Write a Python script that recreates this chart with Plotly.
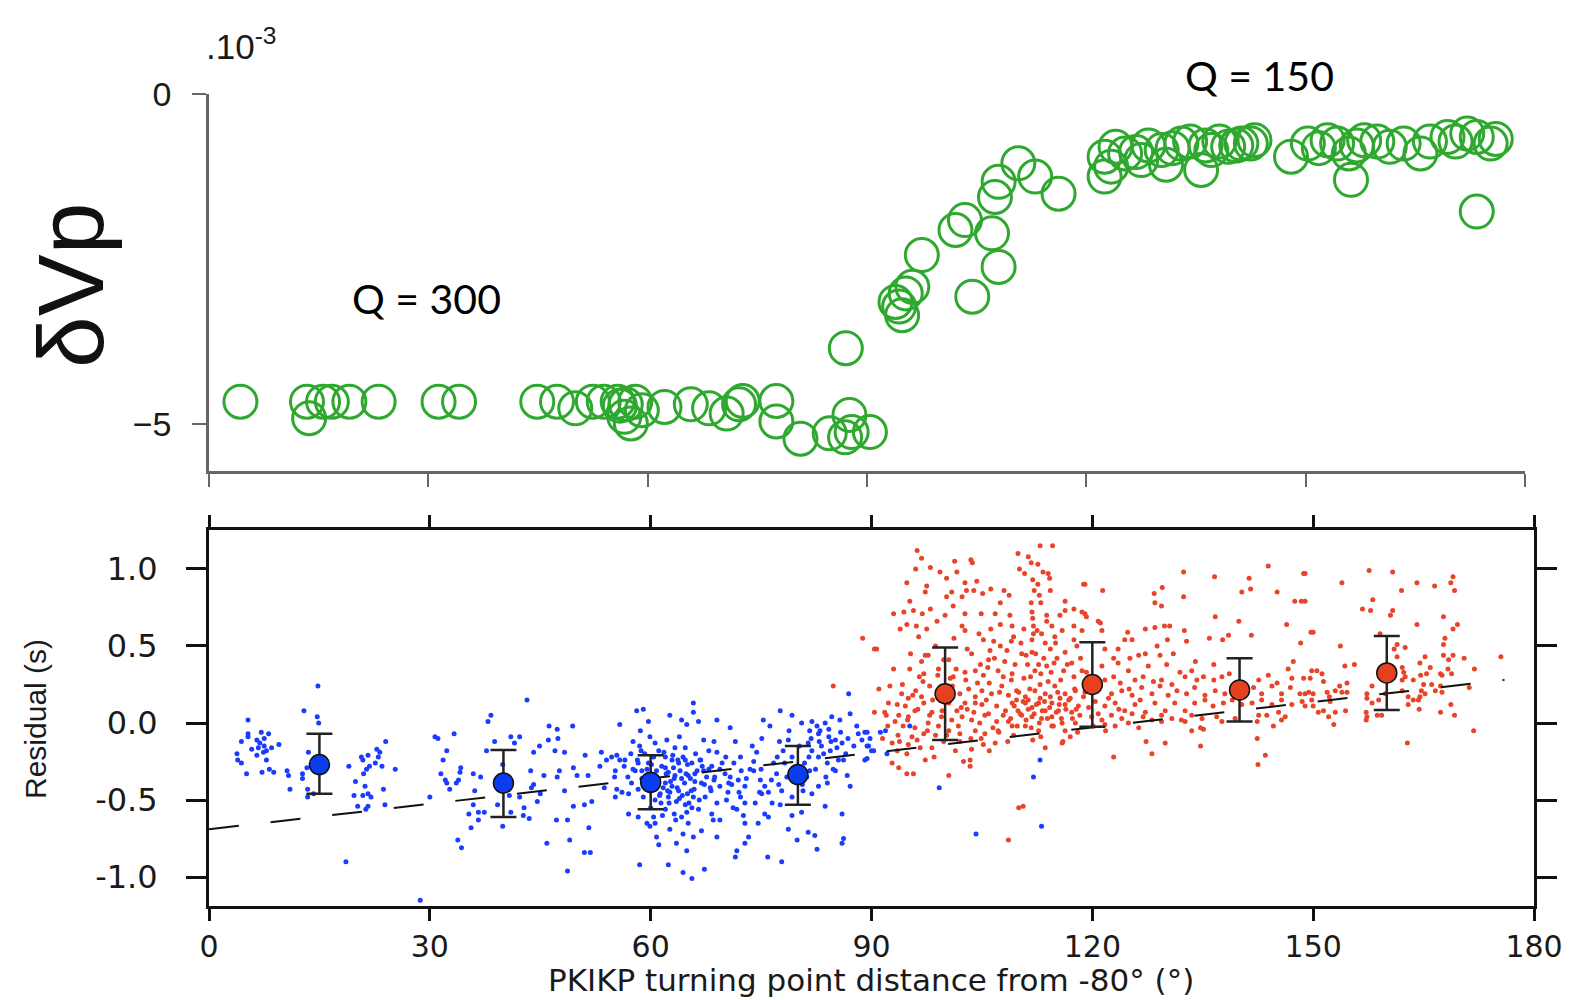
import plotly.graph_objects as go

# ---------------- top panel: dVp (x 1e-3) ----------------
green_pts = [
    (4.3, -4.66), (13.4, -4.66), (13.7, -4.91), (15.6, -4.66), (16.8, -4.66), (19.2, -4.66),
    (23.2, -4.66), (31.4, -4.66), (34.2, -4.66), (44.9, -4.66), (47.6, -4.66), (50.1, -4.76),
    (52.5, -4.66), (54.0, -4.66), (55.9, -4.66), (56.2, -4.72), (56.8, -4.89), (57.0, -4.70),
    (57.7, -4.99), (58.3, -4.66), (59.2, -4.79), (62.3, -4.74), (65.9, -4.70), (68.4, -4.76),
    (70.8, -4.84), (72.5, -4.70), (73.0, -4.65), (77.6, -4.65), (77.6, -4.96), (80.9, -5.22),
    (84.9, -5.14), (87.0, -5.20), (87.6, -4.86), (87.9, -5.12), (90.4, -5.12), (87.1, -3.85),
    (93.9, -3.15), (94.8, -3.35), (95.3, -3.02), (96.2, -2.92), (94.4, -3.22), (97.5, -2.44),
    (102.1, -2.06), (103.4, -1.91), (104.4, -3.07), (107.1, -2.11), (108.0, -2.62), (107.5, -1.56),
    (108.0, -1.33), (110.7, -1.05), (113.0, -1.25), (116.2, -1.51), (122.5, -0.95), (122.5, -1.25),
    (123.4, -1.10), (124.0, -0.80), (125.3, -0.90), (126.8, -0.88), (127.5, -1.00), (128.5, -0.78),
    (130.3, -0.85), (130.9, -1.07), (131.8, -0.82), (133.0, -0.75), (134.2, -0.72), (135.7, -1.15),
    (136.3, -0.78), (137.1, -0.85), (138.2, -0.72), (139.4, -0.80), (140.5, -0.78), (141.2, -0.75),
    (142.5, -0.75), (143.0, -0.70), (148.0, -0.95), (150.3, -0.75), (151.8, -0.82), (153.0, -0.70),
    (154.3, -0.75), (155.9, -0.90), (156.2, -1.30), (157.0, -0.78), (158.0, -0.70), (159.8, -0.72),
    (161.5, -0.80), (163.4, -0.75), (165.7, -0.90), (167.0, -0.72), (169.4, -0.65), (170.5, -0.72),
    (172.1, -0.60), (173.4, -0.65), (173.4, -1.78), (175.3, -0.75), (176.0, -0.68),
]

# ---------------- bottom panel: residuals ----------------
blue_pts = [
    (5.3, 0.02), (5.3, -0.07), (7.1, -0.06), (8.1, -0.07), (4.4, -0.12), (5.3, -0.09), (6.5, -0.11),
    (7.5, -0.10), (9.5, -0.14), (8.5, -0.16), (7.5, -0.15), (6.7, -0.16), (5.8, -0.17), (7.8, -0.18),
    (3.8, -0.20), (6.5, -0.21), (3.9, -0.24), (4.4, -0.26), (7.8, -0.24), (5.1, -0.33), (7.2, -0.32),
    (8.2, -0.30), (8.8, -0.32), (10.6, -0.31), (10.8, -0.34), (11.0, -0.43), (6.9, -0.13), (7.4, -0.19),
    (12.9, 0.08), (14.8, 0.24), (14.7, 0.04), (14.9, 0.00), (13.5, -0.19), (13.3, -0.29), (12.7, -0.33),
    (12.7, -0.36), (13.4, -0.43), (13.4, -0.48), (14.2, -0.46),
    (24.0, -0.12), (22.8, -0.17), (23.2, -0.19), (21.6, -0.21), (20.7, -0.22), (20.9, -0.24), (23.0, -0.22),
    (22.6, -0.26), (21.8, -0.28), (21.4, -0.30), (19.0, -0.28), (23.5, -0.28), (25.3, -0.30), (21.0, -0.33),
    (19.9, -0.38), (21.2, -0.41), (23.7, -0.43), (19.7, -0.47), (20.9, -0.47), (21.6, -0.46), (22.0, -0.48),
    (20.2, -0.54), (21.6, -0.54), (21.3, -0.56), (23.9, -0.53),
    (18.6, -0.90), (28.7, -1.15), (30.0, -0.48), (30.7, -0.09),
    (31.1, -0.10), (33.3, -0.07), (32.3, -0.18), (31.8, -0.24), (31.5, -0.33), (32.1, -0.37), (32.3, -0.39),
    (32.7, -0.43), (33.9, -0.37), (34.2, -0.29), (34.1, -0.32), (33.6, -0.39), (35.3, -0.59), (36.6, -0.58),
    (37.4, -0.58), (36.6, -0.63), (35.6, -0.68), (33.8, -0.76), (34.3, -0.81), (36.1, -0.44), (35.9, -0.53),
    (35.9, -0.33), (36.9, -0.35), (37.9, 0.01), (38.3, 0.05), (37.7, -0.18), (38.8, -0.12), (41.0, -0.09),
    (41.5, -0.13), (42.2, -0.09), (43.2, 0.15), (39.9, -0.27), (39.2, -0.53), (39.9, -0.67), (41.0, -0.58),
    (40.8, -0.47), (42.2, -0.48), (42.8, -0.55), (42.7, -0.60), (43.5, -0.62), (43.8, -0.42), (44.1, -0.40),
    (43.7, -0.31), (44.1, -0.19), (44.9, -0.15), (45.0, -0.46), (44.6, -0.51), (45.5, -0.34), (46.1, -0.11),
    (46.2, -0.02), (47.3, -0.04), (47.4, -0.10), (47.0, -0.18), (47.3, -0.35), (47.6, -0.31), (48.3, -0.19),
    (48.3, -0.44), (47.2, -0.63), (48.7, -0.63), (45.9, -0.78), (49.0, -0.76), (48.7, -0.96), (49.4, -0.02),
    (49.5, -0.29), (50.0, -0.34), (49.5, -0.54), (51.0, -0.53), (51.5, -0.34), (51.1, -0.21), (52.0, -0.51),
    (51.6, -0.68), (51.0, -0.84), (51.8, -0.84), (53.3, -0.19), (53.1, -0.28), (53.7, -0.42), (54.0, -0.24),
    (54.7, -0.22), (55.4, -0.21), (55.8, -0.24), (56.5, -0.24), (55.2, -0.31), (55.1, -0.35), (55.4, -0.43),
    (55.2, -0.48), (56.1, -0.45), (57.0, -0.46), (57.0, -0.59), (55.8, -0.01), (58.1, 0.08), (59.0, 0.09),
    (58.6, -0.05), (57.6, -0.12), (58.7, -0.18), (58.3, -0.26), (57.9, -0.31), (57.4, -0.39), (58.8, -0.31),
    (58.3, -0.43), (59.0, -0.48), (58.3, -0.61), (58.5, -0.92), (59.5, -0.65),
    (59.7, 0.01), (59.9, -0.09), (60.6, -0.13), (61.1, -0.18), (59.7, -0.26), (60.8, -0.31), (61.3, -0.46),
    (60.6, -0.50), (60.4, -0.61), (60.6, -0.65), (60.8, -0.74), (61.1, -0.79), (59.9, -0.67),
    (62.6, 0.05), (64.2, 0.02), (65.8, 0.13), (65.8, 0.07), (64.9, -0.01), (63.9, -0.09), (62.2, -0.11),
    (63.3, -0.16), (64.7, -0.16), (62.0, -0.22), (62.9, -0.24), (63.8, -0.26), (64.7, -0.24), (65.6, -0.26),
    (62.4, -0.32), (63.3, -0.34), (64.2, -0.36), (65.1, -0.34), (66.0, -0.33), (62.0, -0.39), (62.9, -0.41),
    (63.8, -0.44), (65.0, -0.46), (65.8, -0.48), (62.4, -0.48), (63.5, -0.51), (64.7, -0.53), (65.6, -0.55),
    (62.0, -0.56), (63.2, -0.59), (64.2, -0.61), (65.1, -0.65), (66.5, -0.56), (62.6, -0.69), (64.4, -0.72),
    (65.8, -0.74), (63.5, -0.78), (64.9, -0.83), (62.4, -0.92), (64.4, -0.97), (65.6, -1.01), (67.3, -0.95),
    (66.9, -0.70), (61.7, -0.42),
    (66.5, 0.01), (69.0, 0.02), (70.8, -0.03), (67.2, -0.11), (68.6, -0.12), (67.9, -0.18), (69.0, -0.19),
    (66.7, -0.24), (68.3, -0.28), (69.7, -0.26), (67.2, -0.31), (68.7, -0.35), (70.1, -0.33), (66.9, -0.39),
    (68.1, -0.42), (69.4, -0.41), (70.6, -0.39), (67.4, -0.48), (69.0, -0.52), (70.3, -0.50), (68.3, -0.59),
    (69.4, -0.63), (69.0, -0.74), (68.5, -0.63),
    (71.5, -0.12), (72.2, -0.22), (71.3, -0.26), (72.3, -0.31), (70.8, -0.35), (71.9, -0.37), (72.8, -0.41),
    (72.2, -0.48), (72.8, -0.52), (71.7, -0.56), (72.6, -0.60), (72.8, -0.65), (73.3, -0.74), (72.8, -0.78),
    (71.7, -0.83), (71.5, -0.87), (73.8, -0.15), (74.4, -0.19), (75.1, -0.10), (75.3, 0.02), (76.2, -0.02),
    (74.0, -0.31), (74.9, -0.37), (75.5, -0.41), (76.4, -0.37), (75.1, -0.46), (74.2, -0.52), (75.5, -0.59),
    (76.0, -0.61), (74.6, -0.65), (75.9, -0.87), (76.7, -0.26), (77.1, -0.33), (77.4, -0.40), (77.6, 0.08),
    (77.8, -0.90),
    (79.2, 0.05), (80.5, 0.00), (81.9, 0.01), (78.7, -0.11), (78.0, -0.18), (78.2, -0.26), (79.2, -0.22),
    (81.6, -0.05), (81.4, -0.13), (81.9, -0.18), (82.8, -0.07), (80.9, -0.26), (81.6, -0.31), (77.8, -0.44),
    (79.2, -0.48), (80.7, -0.44), (81.9, -0.46), (77.6, -0.53), (79.2, -0.60), (80.5, -0.58), (78.7, -0.69),
    (81.4, -0.71), (79.9, -0.76), (82.3, -0.73), (82.6, -0.82), (83.7, -0.54),
    (83.7, 0.00), (82.6, -0.02), (84.2, -0.09), (85.1, -0.11), (85.3, -0.16), (86.0, -0.13), (83.2, -0.15),
    (84.4, -0.18), (82.8, -0.22), (84.0, -0.26), (85.1, -0.31), (86.2, -0.24), (86.7, -0.34), (87.1, -0.41),
    (85.7, 0.02), (84.6, 0.04), (86.9, 0.19), (87.1, 0.06), (88.2, -0.07), (89.1, -0.06), (88.7, -0.11),
    (89.4, -0.15), (90.3, -0.18), (89.1, -0.24), (86.0, -0.59), (86.2, -0.75), (86.0, -0.78), (84.0, -0.39),
    (82.8, -0.41),
    (89.4, -0.06), (89.8, -0.10), (91.2, -0.06), (91.9, -0.05), (89.6, -0.15), (90.0, -0.18), (89.4, -0.23),
    (92.1, -0.20), (95.2, -0.02), (99.2, -0.42), (104.2, -0.72), (112.9, -0.24), (112.0, -0.35), (113.1, -0.67),
    (59.5, -0.30), (60.2, -0.35), (60.9, -0.40), (61.5, -0.28), (62.1, -0.33), (62.7, -0.38), (63.1, -0.29),
    (63.6, -0.42), (64.0, -0.31), (64.6, -0.39), (65.0, -0.27), (65.4, -0.36), (65.9, -0.43), (66.3, -0.31),
    (61.2, -0.47), (62.5, -0.52), (63.9, -0.49), (65.2, -0.52), (60.4, -0.22), (61.8, -0.19), (63.0, -0.21),
    (64.4, -0.22), (66.1, -0.20), (67.0, -0.28), (67.6, -0.35), (68.2, -0.44), (60.0, -0.55), (61.6, -0.60),
    (63.4, -0.63), (64.9, -0.58), (66.6, -0.50), (62.3, -0.44), (59.8, -0.44), (58.8, -0.36), (58.2, -0.24),
    (57.6, -0.30), (56.9, -0.35), (56.4, -0.28), (57.3, -0.20), (58.5, -0.15), (70.5, -0.45), (71.2, -0.55),
    (73.5, -0.30), (74.8, -0.45), (76.5, -0.52), (77.2, -0.22), (78.5, -0.35), (79.8, -0.28), (81.2, -0.35),
    (82.4, -0.30), (83.5, -0.20), (84.5, -0.12), (85.8, -0.06), (86.5, -0.20), (87.6, -0.15), (83.0, -0.05),
    (81.8, -0.10), (84.8, -0.30),
    (59.2, -0.20), (60.1, -0.27), (60.7, -0.38), (61.4, -0.52), (62.0, -0.29), (62.6, -0.45), (63.2, -0.36),
    (63.7, -0.24), (64.3, -0.47), (64.8, -0.33), (65.5, -0.44), (66.0, -0.38), (66.8, -0.24), (67.3, -0.40),
    (67.9, -0.30), (68.6, -0.37), (69.4, -0.30), (70.2, -0.22), (71.0, -0.40), (72.0, -0.45), (73.0, -0.36),
    (74.0, -0.25), (75.0, -0.30), (76.0, -0.45), (77.5, -0.12), (78.8, -0.05), (80.2, -0.15), (81.5, -0.22),
    (82.9, -0.12), (84.2, -0.04), (85.5, -0.24), (86.8, -0.10), (88.0, -0.02), (83.8, -0.35), (80.6, -0.40),
]

red_pts = [
    (88.8, 0.55), (84.8, 0.24), (90.4, 0.48), (90.4, 0.07),
    (96.2, 1.12), (96.8, 1.07), (96.0, 1.00), (98.0, 1.01), (101.3, 1.05), (103.5, 1.06), (103.7, 1.04),
    (99.3, 0.98), (101.6, 0.98), (100.2, 0.94), (102.7, 0.91), (104.3, 0.92), (94.8, 0.91), (97.5, 0.89),
    (97.3, 0.85), (100.9, 0.85), (102.9, 0.86), (103.9, 0.86), (95.2, 0.79), (100.2, 0.82), (102.3, 0.82),
    (105.1, 0.84), (106.2, 0.87), (108.0, 0.86), (108.7, 0.83), (109.9, 1.10), (110.1, 1.00), (110.8, 0.97),
    (111.3, 1.08), (112.9, 1.15), (114.6, 1.15), (111.7, 1.04), (112.6, 1.03), (113.3, 0.98), (114.0, 0.97),
    (114.2, 0.94), (111.9, 0.93), (112.6, 0.90), (112.1, 0.86), (112.8, 0.83), (111.7, 0.78), (113.0, 0.78),
    (114.3, 0.86), (118.8, 0.90), (107.5, 0.78), (93.0, 0.71), (94.4, 0.72), (95.7, 0.73), (96.9, 0.71),
    (98.0, 0.74), (100.0, 0.70), (101.1, 0.76), (102.7, 0.71), (104.9, 0.71), (106.8, 0.71), (108.8, 0.70),
    (111.8, 0.72), (113.8, 0.70), (115.6, 0.70), (116.3, 0.73), (117.5, 0.74), (118.6, 0.72), (116.3, 0.79),
    (93.9, 0.61), (94.8, 0.64), (96.1, 0.63), (97.5, 0.61), (96.4, 0.56), (98.9, 0.66), (102.3, 0.63),
    (102.7, 0.60), (106.2, 0.61), (107.5, 0.64), (109.1, 0.63), (110.7, 0.61), (112.0, 0.63), (113.1, 0.58),
    (114.5, 0.63), (115.9, 0.60), (117.5, 0.63), (118.6, 0.60), (105.2, 0.54), (106.6, 0.53), (109.3, 0.56),
    (111.8, 0.54), (114.9, 0.56), (117.5, 0.54), (90.7, 0.48), (107.5, 0.50), (109.0, 0.53),
    (97.7, 0.44), (97.3, 0.44), (100.5, 0.41), (103.6, 0.45), (106.1, 0.47), (105.9, 0.41), (108.1, 0.40),
    (110.4, 0.45), (111.8, 0.46), (114.3, 0.48), (116.3, 0.46), (117.9, 0.50), (115.2, 0.42), (117.2, 0.39),
    (95.2, 0.35), (97.1, 0.32), (99.1, 0.35), (101.1, 0.30), (102.7, 0.33), (104.1, 0.34), (105.2, 0.31),
    (107.2, 0.34), (109.1, 0.32), (110.7, 0.29), (112.2, 0.34), (113.8, 0.37), (114.8, 0.39), (116.1, 0.34),
    (117.5, 0.30), (118.6, 0.34), (91.0, 0.22), (92.5, 0.24),
    (94.1, 0.19), (95.0, 0.16), (96.0, 0.21), (96.8, 0.17), (97.9, 0.24), (94.6, 0.11), (95.9, 0.08),
    (97.1, 0.13), (98.2, 0.07), (93.7, 0.05), (95.0, 0.04), (93.2, 0.01), (94.3, -0.02), (95.9, -0.03),
    (97.7, 0.00), (91.8, 0.07), (92.3, 0.13), (101.0, 0.24), (102.0, 0.19), (103.2, 0.22), (104.1, 0.17),
    (105.0, 0.21), (106.3, 0.19), (107.7, 0.24), (108.6, 0.18), (109.7, 0.21), (110.9, 0.17), (112.2, 0.21),
    (113.6, 0.19), (114.9, 0.24), (116.3, 0.19), (117.7, 0.21), (118.8, 0.17), (100.5, 0.13), (101.6, 0.08),
    (102.7, 0.13), (103.9, 0.07), (105.0, 0.12), (105.9, 0.06), (107.0, 0.11), (107.9, 0.05), (109.1, 0.13),
    (109.9, 0.08), (110.9, 0.13), (111.8, 0.10), (112.7, 0.13), (113.6, 0.08), (114.5, 0.13), (115.4, 0.08),
    (116.3, 0.12), (117.2, 0.07), (118.1, 0.11), (110.4, 0.05), (111.8, 0.04), (113.1, 0.03), (114.5, 0.04),
    (115.8, 0.03), (109.7, 0.15), (111.3, 0.15), (112.9, 0.16), (114.3, 0.17), (115.6, 0.16), (117.0, 0.16),
    (99.5, 0.04), (100.9, 0.02), (102.3, 0.04), (103.6, 0.02), (104.7, 0.00), (107.0, 0.01), (108.6, 0.01),
    (99.1, -0.02),
    (93.6, -0.08), (95.5, -0.09), (97.1, -0.07), (98.7, -0.08), (100.5, -0.05), (102.0, -0.07), (104.1, -0.05),
    (105.4, -0.07), (107.2, -0.05), (109.1, -0.02), (110.9, -0.02), (112.7, -0.05), (114.5, -0.02), (116.3, -0.05),
    (117.7, 0.00), (92.8, -0.13), (95.0, -0.14), (96.2, -0.11), (98.2, -0.16), (101.4, -0.18), (102.0, -0.12),
    (103.6, -0.17), (105.2, -0.14), (106.8, -0.13), (111.9, -0.11), (113.6, -0.16), (115.9, -0.13), (117.0, -0.09),
    (93.5, -0.18), (92.8, -0.26), (93.7, -0.29), (97.3, -0.24), (103.4, -0.24), (103.4, -0.28), (94.8, -0.33),
    (95.7, -0.33), (100.5, -0.34), (110.0, -0.55), (110.6, -0.54), (108.6, -0.76),
    (108.2, 0.08), (108.9, 0.03), (109.4, 0.11), (109.8, -0.02), (110.2, 0.06), (110.6, 0.14), (111.0, 0.02),
    (111.3, 0.09), (111.7, -0.03), (112.1, 0.06), (112.4, 0.12), (112.8, 0.00), (113.2, 0.08), (113.5, 0.14),
    (113.9, 0.03), (114.2, 0.10), (114.7, -0.02), (115.1, 0.07), (115.5, 0.12), (115.9, 0.00), (116.4, 0.09),
    (116.8, 0.15), (117.3, 0.03), (117.8, 0.09), (118.3, 0.05), (110.0, 0.20), (111.5, 0.22), (112.9, 0.25),
    (114.0, 0.27), (115.3, 0.20), (109.0, 0.28), (113.0, 0.32), (111.2, 0.38), (112.3, 0.45), (113.6, 0.52),
    (112.5, 0.60), (113.8, 0.66), (111.9, 0.68), (96.5, 0.30), (97.9, 0.05), (99.3, 0.20), (100.7, 0.29),
    (101.8, -0.02), (103.0, 0.09), (104.4, 0.26), (105.6, 0.15), (106.5, -0.03), (107.4, 0.20), (93.0, 0.35),
    (92.0, 0.05), (91.5, -0.10), (94.8, -0.20), (98.5, -0.22), (102.5, -0.25), (106.0, -0.18), (108.5, -0.12),
    (118.0, -0.06), (119.5, 0.10), (120.5, 0.28), (121.8, -0.05),
    (93.5, 0.12), (94.2, 0.25), (94.9, 0.02), (95.6, 0.18), (96.3, 0.09), (97.0, 0.27), (97.6, -0.05),
    (98.3, 0.15), (99.0, 0.31), (99.6, 0.08), (100.2, -0.08), (100.9, 0.17), (101.5, 0.35), (102.2, 0.10),
    (102.8, 0.28), (103.5, -0.10), (104.1, 0.13), (104.8, 0.38), (105.4, 0.05), (106.0, 0.26), (106.7, 0.42),
    (107.3, -0.06), (107.9, 0.30), (108.4, 0.47), (109.5, 0.38), (110.3, 0.52), (111.0, 0.44), (111.6, 0.30),
    (112.0, 0.58), (112.7, 0.38), (113.4, 0.42), (114.4, 0.33), (115.0, 0.52), (115.7, 0.28), (116.6, 0.38),
    (117.6, 0.22), (118.4, 0.42), (119.2, 0.33), (95.3, 0.45), (98.7, 0.50), (101.2, 0.55), (104.6, 0.58),
    (96.8, 0.40), (99.8, 0.41), (103.0, 0.48), (105.8, 0.36), (92.2, -0.02), (93.8, -0.12), (96.6, -0.16),
    (99.8, -0.12), (104.9, -0.10), (109.3, -0.08), (113.0, -0.09), (116.0, -0.12), (119.0, 0.20), (120.8, 0.06),
    (122.2, 0.16), (123.6, 0.09), (125.0, 0.22), (126.5, 0.15),
    (132.4, 0.98), (136.6, 0.95), (143.9, 1.02), (148.7, 0.97), (141.3, 0.94), (141.5, 0.87), (140.3, 0.85),
    (145.1, 0.85), (129.5, 0.88), (128.4, 0.84), (121.4, 0.86), (132.4, 0.82), (128.5, 0.78), (129.4, 0.76),
    (147.5, 0.79), (148.4, 0.79), (119.0, 0.90), (119.0, 0.71), (119.2, 0.69), (120.8, 0.66), (121.1, 0.65),
    (121.3, 0.60), (136.7, 0.69), (139.9, 0.66), (146.4, 0.64), (127.2, 0.61), (128.5, 0.62), (129.8, 0.63),
    (130.5, 0.63), (132.5, 0.60), (124.8, 0.59), (124.4, 0.54), (125.4, 0.54), (128.8, 0.50), (130.2, 0.54),
    (132.8, 0.53), (135.9, 0.55), (137.7, 0.54), (138.5, 0.57), (141.6, 0.57), (148.3, 0.52), (149.7, 0.59),
    (123.5, 0.48), (121.7, 0.48), (122.9, 0.42), (125.1, 0.42), (126.3, 0.44), (127.2, 0.45), (129.2, 0.44),
    (131.0, 0.45), (134.0, 0.40), (136.5, 0.38), (138.6, 0.32), (143.9, 0.31), (146.6, 0.35), (147.3, 0.40),
    (149.8, 0.34), (121.3, 0.37), (123.5, 0.39), (124.9, 0.34), (127.6, 0.37), (130.1, 0.38), (131.9, 0.33),
    (132.6, 0.30), (133.5, 0.34), (135.1, 0.30), (136.5, 0.28), (137.6, 0.30), (142.6, 0.28), (145.1, 0.26),
    (147.1, 0.29), (148.7, 0.29), (121.7, 0.28), (122.9, 0.30), (123.8, 0.26), (125.8, 0.28), (126.9, 0.30),
    (128.3, 0.27), (129.4, 0.28), (130.8, 0.25), (134.2, 0.28),
    (121.1, 0.24), (122.6, 0.19), (124.0, 0.21), (125.4, 0.18), (126.7, 0.23), (128.1, 0.19), (129.2, 0.24),
    (130.3, 0.18), (131.5, 0.21), (132.8, 0.19), (133.9, 0.23), (135.3, 0.18), (136.7, 0.21), (138.0, 0.19),
    (139.2, 0.24), (140.5, 0.19), (141.9, 0.23), (143.0, 0.19), (144.4, 0.24), (145.7, 0.19), (146.9, 0.23),
    (148.2, 0.19), (149.4, 0.20),
    (120.4, 0.14), (121.7, 0.11), (123.1, 0.13), (124.4, 0.08), (125.8, 0.12), (127.2, 0.07), (128.5, 0.13),
    (129.9, 0.08), (131.2, 0.13), (132.6, 0.08), (133.9, 0.13), (135.3, 0.15), (136.4, 0.11), (137.8, 0.13),
    (139.0, 0.15), (140.3, 0.12), (141.7, 0.13), (143.0, 0.15), (144.4, 0.12), (145.7, 0.15), (147.1, 0.12),
    (148.5, 0.14), (149.8, 0.15),
    (119.9, 0.04), (121.3, 0.02), (122.6, 0.05), (124.0, 0.03), (125.4, 0.06), (126.9, 0.04), (128.1, 0.02),
    (129.4, 0.05), (130.8, 0.03), (132.1, 0.02), (133.5, 0.05), (134.9, 0.03), (136.9, 0.04), (137.6, 0.01),
    (139.4, 0.03), (142.6, 0.05), (143.7, 0.05), (145.3, 0.07), (146.2, 0.04), (120.1, -0.02), (121.7, -0.01),
    (123.1, -0.02), (124.9, 0.00), (126.3, -0.03), (129.4, 0.01), (132.6, 0.01), (133.5, -0.05), (134.7, -0.03),
    (135.1, -0.04), (142.4, 0.01), (144.6, -0.02), (145.7, 0.02),
    (127.3, -0.12), (129.9, -0.13), (128.1, -0.20), (134.7, -0.15), (122.9, -0.22), (142.4, -0.10),
    (143.5, -0.21), (142.5, -0.27),
    (157.6, 0.99), (160.8, 0.98), (153.9, 0.91), (164.1, 0.91), (166.5, 0.89), (168.7, 0.91), (169.0, 0.95),
    (169.2, 0.86), (162.0, 0.86), (158.1, 0.80), (156.7, 0.74), (157.8, 0.73), (160.8, 0.73), (160.5, 0.70),
    (164.1, 0.64), (167.7, 0.69), (169.6, 0.64), (169.0, 0.61), (150.0, 0.59), (148.9, 0.97), (148.9, 0.79),
    (159.1, 0.58), (161.4, 0.51), (162.5, 0.49), (161.0, 0.48), (167.9, 0.55), (167.7, 0.51), (153.7, 0.50),
    (167.7, 0.44), (169.0, 0.44), (165.2, 0.43), (161.4, 0.43), (164.5, 0.39), (168.4, 0.41), (170.5, 0.42),
    (175.5, 0.43), (155.6, 0.38), (154.3, 0.37), (162.1, 0.36), (165.9, 0.36), (168.3, 0.35), (171.9, 0.35),
    (150.5, 0.34), (151.2, 0.32), (149.6, 0.29), (151.4, 0.27), (162.3, 0.33), (164.6, 0.31), (165.4, 0.32),
    (167.3, 0.32), (168.8, 0.32), (167.5, 0.31), (162.5, 0.30), (162.1, 0.28), (163.6, 0.28), (165.0, 0.25),
    (166.1, 0.25), (158.0, 0.24), (154.6, 0.26), (153.6, 0.24), (171.2, 0.23), (167.3, 0.24), (162.1, 0.21),
    (148.9, 0.19), (150.0, 0.19), (151.9, 0.20), (153.0, 0.21), (153.9, 0.20), (154.6, 0.20), (152.2, 0.17),
    (152.3, 0.14), (157.3, 0.19), (158.0, 0.13), (157.3, 0.16), (158.9, 0.15), (159.8, 0.19), (162.9, 0.17),
    (163.6, 0.15), (164.3, 0.15), (164.5, 0.17), (164.7, 0.21), (165.2, 0.19), (166.6, 0.21), (167.5, 0.20),
    (148.9, 0.11), (150.0, 0.11), (150.7, 0.07), (151.4, 0.08), (152.1, 0.04), (152.8, -0.01), (153.0, 0.07),
    (154.4, 0.08), (157.2, 0.07), (157.3, 0.04), (157.2, 0.02), (158.7, 0.05), (159.3, 0.05), (162.9, 0.12),
    (164.4, 0.09), (167.3, 0.07), (168.7, 0.12), (169.2, 0.05), (171.8, -0.05), (162.8, -0.13),
]

# binned means with error bars
bin_blue_x = [15, 40, 60, 80]
bin_blue_y = [-0.27, -0.39, -0.385, -0.335]
bin_blue_up = [0.20, 0.215, 0.175, 0.185]
bin_blue_dn = [0.19, 0.22, 0.175, 0.195]

bin_red_x = [100, 120, 140, 160]
bin_red_y = [0.19, 0.25, 0.215, 0.325]
bin_red_up = [0.30, 0.275, 0.205, 0.24]
bin_red_dn = [0.30, 0.275, 0.205, 0.24]

# linear trend (dashed)
fit_x = [0, 176]
fit_y = [-0.69, 0.28]

x_ticks = [0, 30, 60, 90, 120, 150, 180]
res_ticks = [-1.0, -0.5, 0.0, 0.5, 1.0]
res_ticktext = ["-1.0", "-0.5", "0.0", "0.5", "1.0"]
dvp_ticks = [0, -5]
dvp_ticktext = ["0", "\u22125"]

BLUE = "#1a3cff"
RED = "#e8442a"
GREEN = "#2ea82e"

fig = go.Figure()

fig.add_trace(go.Scatter(
    x=[p[0] for p in green_pts], y=[p[1] for p in green_pts],
    mode="markers", xaxis="x", yaxis="y", cliponaxis=False,
    marker=dict(symbol="circle-open", size=33, color=GREEN, line=dict(width=3, color=GREEN)),
    showlegend=False, hoverinfo="skip"))

fig.add_trace(go.Scatter(
    x=[p[0] for p in blue_pts], y=[p[1] for p in blue_pts],
    mode="markers", xaxis="x2", yaxis="y2",
    marker=dict(size=5, color=BLUE), showlegend=False))

fig.add_trace(go.Scatter(
    x=[p[0] for p in red_pts], y=[p[1] for p in red_pts],
    mode="markers", xaxis="x2", yaxis="y2",
    marker=dict(size=5, color=RED), showlegend=False))

fig.add_trace(go.Scatter(
    x=fit_x, y=fit_y, mode="lines", xaxis="x2", yaxis="y2",
    line=dict(color="#111111", width=2, dash="30px,32px"), showlegend=False))

fig.add_trace(go.Scatter(
    x=bin_blue_x, y=bin_blue_y, mode="markers", xaxis="x2", yaxis="y2",
    error_y=dict(type="data", symmetric=False, array=bin_blue_up, arrayminus=bin_blue_dn,
                 color="#222222", thickness=2.5, width=13),
    marker=dict(size=20, color="#0a3cf0", line=dict(color="#111111", width=1.5)),
    showlegend=False))

fig.add_trace(go.Scatter(
    x=bin_red_x, y=bin_red_y, mode="markers", xaxis="x2", yaxis="y2",
    error_y=dict(type="data", symmetric=False, array=bin_red_up, arrayminus=bin_red_dn,
                 color="#222222", thickness=2.5, width=13),
    marker=dict(size=20, color="#e5401f", line=dict(color="#111111", width=1.5)),
    showlegend=False))

fig.update_layout(
    width=1582, height=1000,
    margin=dict(l=0, r=0, t=0, b=0, pad=0, autoexpand=False),
    paper_bgcolor="white", plot_bgcolor="white",
    showlegend=False,
    xaxis=dict(domain=[209 / 1582, 1525 / 1582], range=[0, 180], anchor="y",
               showline=True, linecolor="#666666", linewidth=3,
               ticks="outside", ticklen=13, tickwidth=2, tickcolor="#666666",
               tickvals=x_ticks, showticklabels=False, automargin=False,
               showgrid=False, zeroline=False),
    yaxis=dict(domain=[1 - 471 / 1000, 1 - 94 / 1000], range=[-5.71, 0], anchor="x",
               showline=True, linecolor="#666666", linewidth=2.5,
               ticks="outside", ticklen=14, tickwidth=2, tickcolor="#666666",
               tickvals=dvp_ticks, ticktext=dvp_ticktext,
               tickfont=dict(family="Liberation Sans", size=34, color="#1a1a1a"),
               ticklabelstandoff=14, automargin=False,
               showgrid=False, zeroline=False),
    xaxis2=dict(domain=[209 / 1582, 1534 / 1582], range=[0, 180], anchor="y2",
                showline=True, mirror="ticks", linecolor="#111111", linewidth=3,
                ticks="outside", ticklen=12, tickwidth=2.5, tickcolor="#111111",
                tickvals=x_ticks, automargin=False,
                tickfont=dict(family="DejaVu Sans", size=30, color="#1a1a1a"),
                showgrid=False, zeroline=False),
    yaxis2=dict(domain=[1 - 906 / 1000, 1 - 530 / 1000], range=[-1.188, 1.253], anchor="x2",
                showline=True, mirror="ticks", linecolor="#111111", linewidth=3,
                ticks="outside", ticklen=20, tickwidth=2.5, tickcolor="#111111",
                tickvals=res_ticks, ticktext=res_ticktext,
                tickfont=dict(family="DejaVu Sans", size=32, color="#1a1a1a"),
                ticklabelstandoff=22, automargin=False,
                showgrid=False, zeroline=False),
    annotations=[
        dict(text="PKIKP turning point distance from -80\u00b0 (\u00b0)", x=871 / 1582, y=1 - 980 / 1000,
             xref="paper", yref="paper", xanchor="center", yanchor="middle", showarrow=False,
             font=dict(family="DejaVu Sans", size=31, color="#1a1a1a")),
        dict(text="Residual (s)", x=35 / 1582, y=1 - 719 / 1000, textangle=-90,
             xref="paper", yref="paper", xanchor="center", yanchor="middle", showarrow=False,
             font=dict(family="Liberation Sans", size=30, color="#1a1a1a")),
        dict(text="\u03b4Vp", x=71 / 1582, y=1 - 285 / 1000, textangle=-90,
             xref="paper", yref="paper", xanchor="center", yanchor="middle", showarrow=False,
             font=dict(family="Liberation Sans", size=93, color="#111111")),
        dict(text=".10<sup>-3</sup>", x=204 / 1582, y=1 - 44 / 1000,
             xref="paper", yref="paper", xanchor="left", yanchor="middle", showarrow=False,
             font=dict(family="Liberation Sans", size=35, color="#1a1a1a")),
        dict(text="Q = 300", x=426 / 1582, y=1 - 298 / 1000,
             xref="paper", yref="paper", xanchor="center", yanchor="middle", showarrow=False,
             font=dict(family="Lato", size=41, color="#000000")),
        dict(text="Q = 150", x=1259 / 1582, y=1 - 76 / 1000,
             xref="paper", yref="paper", xanchor="center", yanchor="middle", showarrow=False,
             font=dict(family="Lato", size=41, color="#000000")),
    ],
)

fig.write_html("out.html")
